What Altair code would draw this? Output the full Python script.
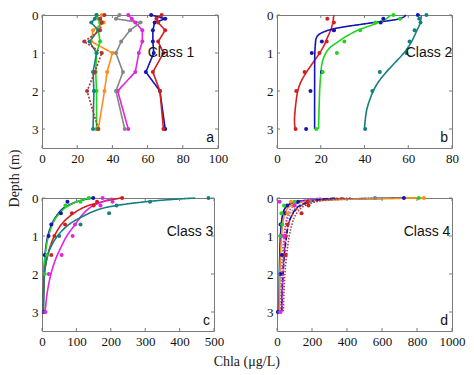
import altair as alt
import pandas as pd

# ---------------- Panel a (Class 1): measured profiles ----------------
a_depth = [0, 0.1, 0.2, 0.4, 0.7, 1.0, 1.5, 2.0, 3.0]
a_vals = {
    "blue":    [62, 70, 64, 63, 63, 63.5, 59, 67, 70],
    "red":     [68, 65, 66, 70, 66, 69, 63, 67, 69],
    "magenta": [49, 51, 53, 57, 57, 55, 53, 43, 49],
    "gray":    [44, 42, 56, 50, 45, 42, 46, 42, 47],
    "orange":  [34, 33, 35, 29, 28, 40, 37, 35.5, 32],
    "green":   [31, 32, 33, 32, 33, 31, 30.5, 31, 31],
    "teal":    [31, 30, 28, 32, 27, 31, 29, 29.5, 29],
    "darkred": [35.5, 33, 34, 33, 24, 34, 30, 25.6, 32],
}

# ---------------- Panel b (Class 2): points + fitted curves ----------------
b_pts = {
    "red":   ([0.1, 0.2, 0.4, 0.7, 1.0, 1.5, 2.0, 3.0], [23, 26, 26, 22.7, 19.4, 12.6, 8.8, 8.5]),
    "blue":  ([0, 0.1, 0.2, 0.4, 0.7, 1.0, 1.5, 2.0, 3.0], [64.4, 48.6, 47.4, 26, 20.5, 15.9, 20.5, 15.3, 13.3]),
    "green": ([0, 0.1, 0.2, 0.4, 0.7, 1.0, 1.5, 3.0], [53.2, 56.2, 45, 38, 30.8, 27.4, 20.9, 17.9]),
    "teal":  ([0, 0.1, 0.2, 0.4, 0.7, 1.0, 1.5, 2.0, 3.0], [68.3, 65, 65.6, 62.9, 60.6, 59.2, 47, 43.6, 40.3]),
}
b_curves = {
    "red":   ([0, 0.2, 0.4, 0.6, 0.8, 1.0, 1.25, 1.5, 1.75, 2.0, 2.5, 2.8, 3.0],
              [26, 25.5, 24.5, 23, 21.5, 19.5, 16.5, 13.5, 11, 9.5, 8.3, 8, 8.3]),
    "blue":  ([0, 0.05, 0.1, 0.15, 0.2, 0.25, 0.3, 0.35, 0.4, 0.5, 0.6, 0.8, 1.0, 2.0, 3.0],
              [59, 58, 56, 51, 44, 38, 32, 27, 23.5, 19.5, 18, 17.5, 17.3, 17.2, 17.2]),
    "green": ([0, 0.1, 0.23, 0.4, 0.55, 0.7, 0.9, 1.1, 1.3, 1.56, 2.0, 3.0],
              [52, 50, 45, 37, 32, 28, 23.5, 21.5, 20.5, 20, 19.5, 19]),
    "teal":  ([0, 0.2, 0.4, 0.7, 1.0, 1.25, 1.5, 1.75, 2.0, 2.5, 3.0],
              [66, 65.5, 64, 61.5, 58, 54, 50, 46.5, 44, 41, 40]),
}

# ---------------- Panel c (Class 3) ----------------
c_pts = {
    "blue":    ([0, 0.1, 0.4, 0.7, 1.0, 1.5, 3.0], [149, 74, 55, 27, 19, 8, 5]),
    "green":   ([0, 0.1, 0.2, 1.5, 2.0], [136, 112, 68, 14, 8]),
    "red":     ([0, 0.1, 0.2, 0.4, 0.7, 1.0, 1.5], [233, 160, 150, 87, 67, 36, 27]),
    "magenta": ([0, 0.1, 0.2, 0.7, 1.0, 1.5, 2.0, 3.0], [176, 205, 170, 96, 89, 57, 20, 10]),
    "teal":    ([0, 0.1, 0.2, 0.4, 0.7, 1.0], [484, 314, 217, 195, 112, 50]),
}
c_depth = [0, 0.05, 0.1, 0.2, 0.3, 0.5, 0.7, 1.0, 1.3, 1.6, 2.0, 2.5, 3.0]
c_curves = {
    "blue":    [145, 120, 100, 75, 58, 40, 28, 17, 11, 8, 6, 5, 4],
    "green":   [138, 118, 100, 78, 62, 42, 30, 19, 12, 8, 6, 5, 4],
    "red":     [230, 200, 175, 135, 110, 78, 56, 36, 23, 14, 7, 4, 3],
    "magenta": [205, 190, 175, 150, 133, 112, 96, 72, 55, 40, 26, 15, 9],
    "teal":    [445, 360, 300, 215, 165, 115, 78, 45, 25, 14, 7, 4, 3],
}

# ---------------- Panel d (Class 4) ----------------
d_pts = {
    "blue":    ([0, 0.1, 0.2, 0.4, 0.7, 1.0, 1.5, 2.0, 3.0], [725, 120, 58, 48, 20, 22, 28, 20, 5]),
    "green":   ([0, 0.1, 0.2, 0.4, 0.7, 1.0], [810, 100, 40, 25, 30, 20]),
    "orange":  ([0, 0.1, 0.2, 0.4], [840, 80, 95, 60]),
    "gray":    ([0, 0.1], [560, 190]),
    "red":     ([0.1, 0.2, 0.4, 0.7, 1.0, 1.5], [175, 180, 140, 60, 50, 50]),
    "magenta": ([0.1, 0.2, 1.0, 3.0], [15, 100, 40, 20]),
}
d_depth = [0, 0.05, 0.1, 0.2, 0.3, 0.5, 0.7, 1.0, 1.5, 2.0, 2.5, 3.0]
d_curves = {
    "green":    [810, 260, 120, 60, 42, 30, 24, 20, 16, 14, 13, 12],
    "blue":     [725, 230, 110, 58, 42, 30, 25, 20, 16, 14, 12, 8],
    "orange":   [840, 300, 150, 80, 55, 40, 32, 26, 20, 16, 14, 12],
    "gray2":    [560, 320, 210, 130, 95, 65, 50, 40, 30, 25, 22, 20],
    "red2":     [380, 250, 190, 140, 110, 80, 65, 52, 40, 33, 28, 25],
    "blue2":    [330, 230, 180, 130, 105, 80, 65, 55, 42, 35, 30, 28],
    "darkred2": [420, 280, 220, 160, 130, 100, 85, 70, 55, 45, 40, 36],
    "magenta2": [250, 170, 130, 95, 75, 58, 50, 44, 38, 34, 32, 30],
}

# ---------------- styles ----------------
STYLE = {
    "blue": ("#1414B8", [1, 0]), "red": ("#D21E1E", [1, 0]), "green": ("#22D422", [1, 0]),
    "teal": ("#138080", [1, 0]), "magenta": ("#E024E0", [1, 0]), "gray": ("#858585", [1, 0]),
    "orange": ("#FF8C1A", [1, 0]), "darkred": ("#B03434", [2, 1.5]),
    "gray2": ("#858585", [1.5, 1.5]), "red2": ("#D21E1E", [4, 2]), "blue2": ("#1414B8", [5, 2]),
    "darkred2": ("#A83C3C", [1.5, 1.5]), "magenta2": ("#E024E0", [1.5, 1.5]),
}
names = list(STYLE.keys())
cscale = alt.Scale(domain=names, range=[STYLE[n][0] for n in names])
dscale = alt.Scale(domain=names, range=[STYLE[n][1] for n in names])
FRAME = "#7a7a7a"


def frame_from(d):
    rows = []
    for s, (dep, val) in d.items():
        rows += [{"s": s, "depth": a, "v": b} for a, b in zip(dep, val)]
    return pd.DataFrame(rows)


def frame_grid(depths, d):
    rows = []
    for s, val in d.items():
        rows += [{"s": s, "depth": a, "v": b} for a, b in zip(depths, val)]
    return pd.DataFrame(rows)


def panel(curves, points, xmax, xticks, w, h, label, lab_px, letter, interp):
    xs = alt.Scale(domain=[0, xmax], nice=False, zero=False)
    ys = alt.Scale(domain=[0, 3.5], reverse=True, nice=False)
    X = alt.X("v:Q", scale=xs, axis=alt.Axis(values=xticks, title=None, labelOverlap=False, format="d",
                                             labelFlush=False), title=None)
    Y = alt.Y("depth:Q", scale=ys, axis=alt.Axis(values=[0, 1, 2, 3], title=None, labelOverlap=False,
                                                 labelFlush=False), title=None)
    col = alt.Color("s:N", scale=cscale, legend=None)
    dash = alt.StrokeDash("s:N", scale=dscale, legend=None)
    line = alt.Chart(curves).mark_line(strokeWidth=1.6, interpolate=interp).encode(
        x=X, y=Y, color=col, strokeDash=dash, detail="s:N", order=alt.Order("depth:Q"))
    pts = alt.Chart(points).mark_circle(size=16, opacity=1).encode(x=X, y=Y, color=col)
    xt = pd.DataFrame({"v": xticks})
    yt = pd.DataFrame({"depth": [0, 1, 2, 3]})
    tb = alt.Chart(xt).mark_rule(color=FRAME).encode(x=X, y=alt.value(h), y2=alt.value(h - 3))
    tt = alt.Chart(xt).mark_rule(color=FRAME).encode(x=X, y=alt.value(0), y2=alt.value(3))
    tl = alt.Chart(yt).mark_rule(color=FRAME).encode(y=Y, x=alt.value(0), x2=alt.value(3))
    tr = alt.Chart(yt).mark_rule(color=FRAME).encode(y=Y, x=alt.value(w), x2=alt.value(w - 3))
    lab = alt.Chart(pd.DataFrame({"t": [label]})).mark_text(
        font="Liberation Sans", fontSize=14, align="center", baseline="middle", color="#111").encode(
        text="t:N", x=alt.value(lab_px[0]), y=alt.value(lab_px[1]))
    let = alt.Chart(pd.DataFrame({"t": [letter]})).mark_text(
        font="Liberation Sans", fontSize=14, align="right", baseline="middle", color="#111").encode(
        text="t:N", x=alt.value(w - 4), y=alt.value(h * 3.23 / 3.5))
    return alt.layer(line, pts, tb, tt, tl, tr, lab, let).properties(width=w, height=h)


H = 133
a_df = frame_grid(a_depth, a_vals)
pa = panel(a_df, a_df, 100, [0, 20, 40, 60, 80, 100], 176, H, "Class 1", (129, H / 3.5), "a", "linear")
pb = panel(frame_from(b_curves), frame_from(b_pts), 80, [0, 20, 40, 60, 80], 175, H,
           "Class 2", (152, H / 3.5), "b", "catmull-rom")
pc = panel(frame_grid(c_depth, c_curves), frame_from(c_pts), 500, [0, 100, 200, 300, 400, 500], 172, H,
           "Class 3", (148, H * 0.9 / 3.5), "c", "catmull-rom")
pd_ = panel(frame_grid(d_depth, d_curves), frame_from(d_pts), 1000, [0, 200, 400, 600, 800, 1000], 175, H,
            "Class 4", (150, H * 0.9 / 3.5), "d", "catmull-rom")

row1 = alt.hconcat(pa, pb, spacing=59, bounds="flush")
row2 = alt.hconcat(pc, pd_, spacing=63, bounds="flush")
grid = alt.vconcat(row1, row2, spacing=25,
                   title=alt.TitleParams("Depth (m)", orient="left", anchor="middle", offset=9,
                                         font="Liberation Serif", fontSize=14, fontWeight="normal",
                                         color="#222"))
chart = alt.vconcat(grid, title=alt.TitleParams("Chla (μg/L)", orient="bottom", anchor="middle", offset=6,
                                               dx=10, font="Liberation Serif", fontSize=14,
                                               fontWeight="normal", color="#222")).properties(padding=0)
chart = chart.configure_view(stroke=FRAME, strokeWidth=1).configure_axis(
    grid=False, domain=False, ticks=False, labelFont="Liberation Serif", labelFontSize=13,
    labelColor="#111", labelPadding=4, labelOverlap=False, labelFlush=False)

chart.save("out.html", embed_options={"renderer": "svg", "actions": False})
